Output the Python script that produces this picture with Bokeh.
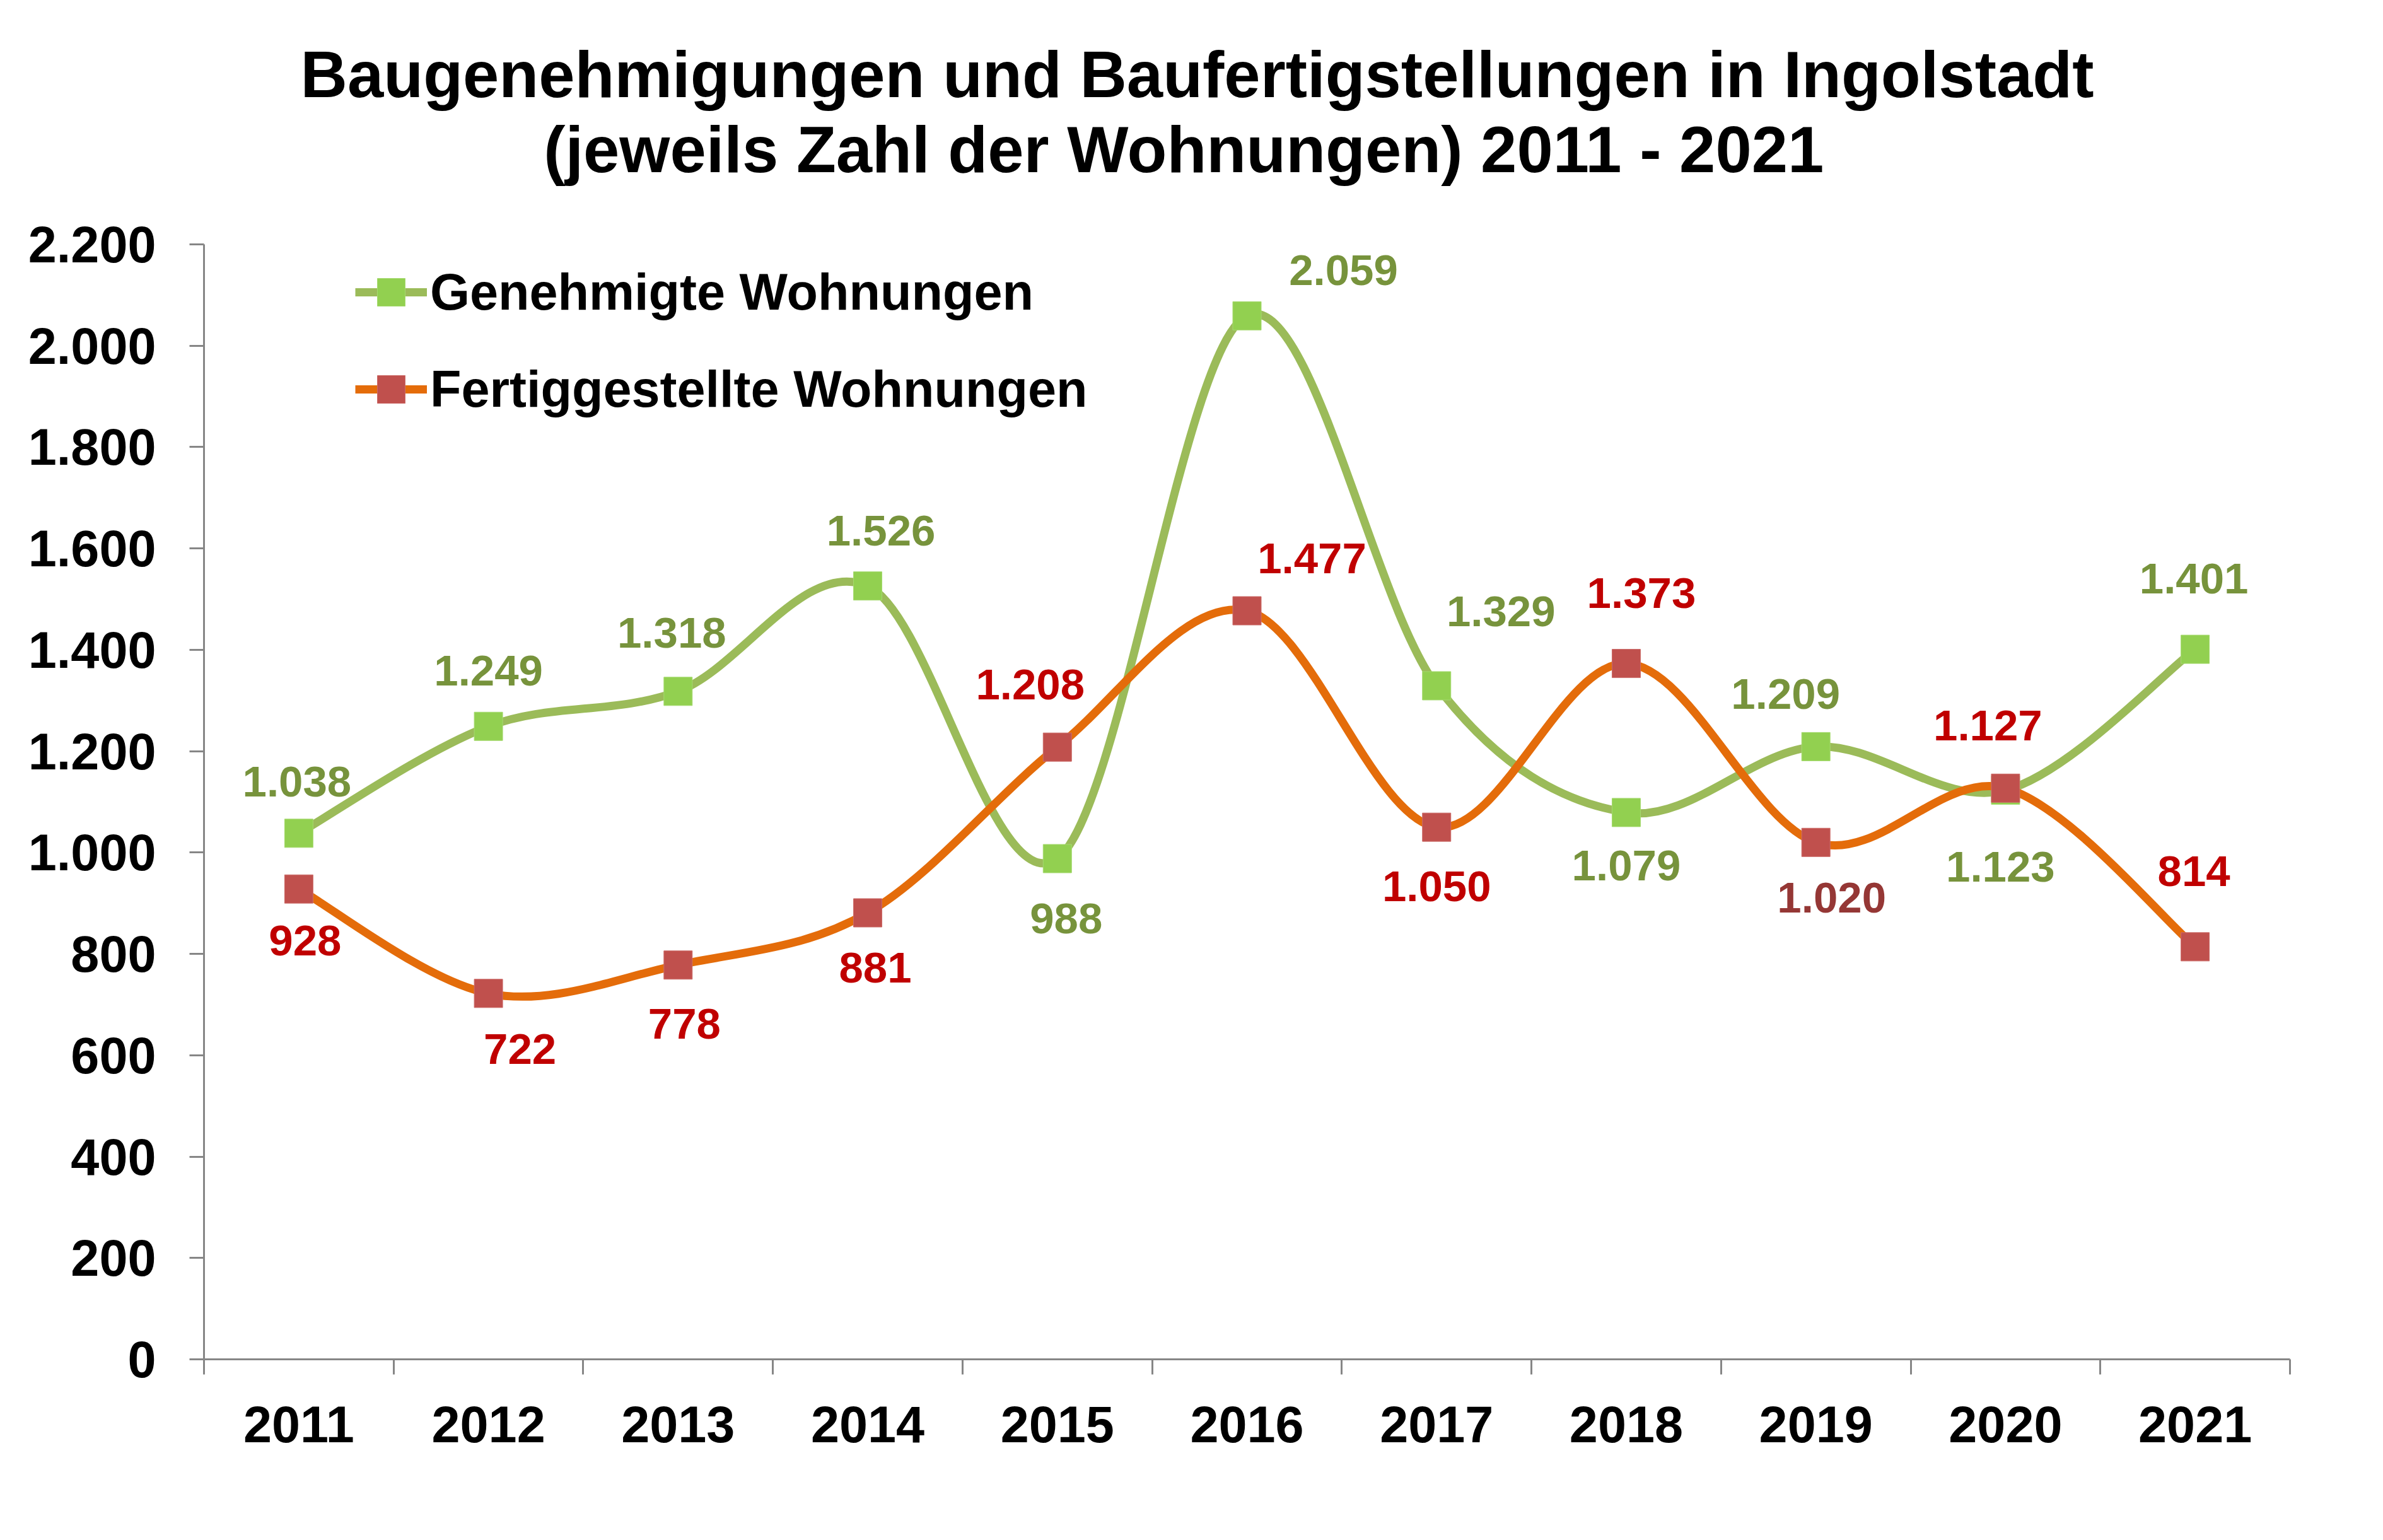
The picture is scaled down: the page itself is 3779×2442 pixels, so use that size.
from bokeh.plotting import figure
from bokeh.models import (Range1d, FixedTicker, Legend, LegendItem, ColumnDataSource)
from bokeh.core.properties import value
from bokeh.embed import file_html
from bokeh.resources import INLINE

# ---------------- data ----------------
years = ["2011", "2012", "2013", "2014", "2015", "2016", "2017", "2018", "2019", "2020", "2021"]
genehmigt = [1038, 1249, 1318, 1526, 988, 2059, 1329, 1079, 1209, 1123, 1401]
fertig = [928, 722, 778, 881, 1208, 1477, 1050, 1373, 1020, 1127, 814]
y_ticks = [0, 200, 400, 600, 800, 1000, 1200, 1400, 1600, 1800, 2000, 2200]

title_1 = "Baugenehmigungen und Baufertigstellungen in Ingolstadt"
title_2 = "(jeweils Zahl der Wohnungen)  2011 - 2021"
name_g = "Genehmigte Wohnungen"
name_f = "Fertiggestellte Wohnungen"

# ---------------- styles / placement ----------------
FONT = "Liberation Sans"
C_LINE_G, C_MARK_G, C_TEXT_G = "#9BBB59", "#92D050", "#77933C"
C_LINE_F, C_MARK_F = "#E46C0A", "#C0504D"
AXIS_C = "#868686"
off_g = [(-3, -82), (0, -88), (-10, -93), (21, -88), (14, 95), (153, -72),
         (102, -118), (0, 84), (-48, -83), (-8, 121), (-2, -112)]
off_f = [(10, 82), (50, 88), (10, 93), (12, 87), (-43, -99), (103, -83),
         (0, 94), (24, -112), (25, 88), (-28, -99), (-2, -120)]
col_f = ["#C00000"] * 8 + ["#953735"] + ["#C00000"] * 2

W, H = 3763, 2426
BORDER_L, BORDER_R, BORDER_B = 323, 132, 271
AXIS_PX = 1768            # pixel height of the 0..2200 axis
Y_AXIS_MAX = 2200
FRAME_H = H - BORDER_B
FRAME_W = W - BORDER_L - BORDER_R
Y_TOP = FRAME_H * Y_AXIS_MAX / AXIS_PX     # frame extends above the axis for the title
N = len(years)


def fmt(v):
    return f"{v:,}".replace(",", ".")


def smooth_segments(xs, ys):
    """Cubic Bezier segments (Catmull-Rom style, like a spreadsheet 'smoothed line')."""
    n = len(xs)
    seg = dict(x0=[], y0=[], x1=[], y1=[], cx0=[], cy0=[], cx1=[], cy1=[])
    for i in range(n - 1):
        a = max(i - 1, 0)
        d = min(i + 2, n - 1)
        seg["x0"].append(xs[i]); seg["y0"].append(ys[i])
        seg["x1"].append(xs[i + 1]); seg["y1"].append(ys[i + 1])
        seg["cx0"].append(xs[i] + (xs[i + 1] - xs[a]) / 6)
        seg["cy0"].append(ys[i] + (ys[i + 1] - ys[a]) / 6)
        seg["cx1"].append(xs[i + 1] - (xs[d] - xs[i]) / 6)
        seg["cy1"].append(ys[i + 1] - (ys[d] - ys[i]) / 6)
    return seg


def page_to_data(px, py):
    """convert a page pixel position (8px margin) to data coordinates"""
    fx = px - 8 - BORDER_L
    fy = (H - BORDER_B) - (py - 8)
    return -0.5 + fx * N / FRAME_W, fy * Y_AXIS_MAX / AXIS_PX


idx = list(range(N))

p = figure(width=W, height=H, output_backend="svg", toolbar_location=None,
           x_range=Range1d(-0.5, N - 0.5), y_range=Range1d(0, Y_TOP),
           min_border_left=BORDER_L, min_border_right=BORDER_R, min_border_top=0,
           min_border_bottom=BORDER_B)
p.outline_line_color = None
p.xgrid.visible = False
p.ygrid.visible = False
p.background_fill_color = "white"
p.border_fill_color = "white"

# ---------------- lines ----------------
sg = ColumnDataSource(smooth_segments(idx, genehmigt))
sf = ColumnDataSource(smooth_segments(idx, fertig))
p.bezier(x0="x0", y0="y0", x1="x1", y1="y1", cx0="cx0", cy0="cy0", cx1="cx1", cy1="cy1",
         source=sg, line_color=C_LINE_G, line_width=13, line_cap="round")
mg = p.scatter(idx, genehmigt, marker="square", size=45, fill_color=C_MARK_G,
               line_color="#A6DA70", line_width=1)
p.bezier(x0="x0", y0="y0", x1="x1", y1="y1", cx0="cx0", cy0="cy0", cx1="cx1", cy1="cy1",
         source=sf, line_color=C_LINE_F, line_width=13, line_cap="round")
mf = p.scatter(idx, fertig, marker="square", size=45, fill_color=C_MARK_F,
               line_color="#CC6C69", line_width=1)

# legend helper lines (zero-length, hidden under the first marker)
lg = p.line([idx[0], idx[0]], [genehmigt[0], genehmigt[0]], line_color=C_LINE_G, line_width=13)
lf = p.line([idx[0], idx[0]], [fertig[0], fertig[0]], line_color=C_LINE_F, line_width=13)
p.renderers.remove(lg); p.renderers.remove(lf)
p.renderers.insert(0, lg); p.renderers.insert(0, lf)

# ---------------- data labels ----------------
src_lg = ColumnDataSource(dict(x=idx, y=genehmigt, t=[fmt(v) for v in genehmigt],
                               dx=[o[0] for o in off_g], dy=[o[1] for o in off_g]))
src_lf = ColumnDataSource(dict(x=idx, y=fertig, t=[fmt(v) for v in fertig],
                               dx=[o[0] for o in off_f], dy=[o[1] for o in off_f], c=col_f))
p.text(x="x", y="y", text="t", x_offset="dx", y_offset="dy", source=src_lg,
       text_font=value(FONT), text_font_style="bold", text_font_size="69px",
       text_color=C_TEXT_G, text_align="center", text_baseline="middle")
p.text(x="x", y="y", text="t", x_offset="dx", y_offset="dy", source=src_lf,
       text_font=value(FONT), text_font_style="bold", text_font_size="69px",
       text_color="c", text_align="center", text_baseline="middle")

# ---------------- title (drawn in the frame area above the axis) ----------------
tx1, ty1 = page_to_data(1906, 126)
tx2, ty2 = page_to_data(1899, 245)
p.text(x=[tx1, tx2], y=[ty1, ty2], text=[title_1, title_2],
       text_font=value(FONT), text_font_style="bold", text_font_size="103px",
       text_color="black", text_align="center", text_baseline="middle")

# ---------------- axes ----------------
yax = p.yaxis[0]
yax.bounds = (0, Y_AXIS_MAX)
yax.ticker = FixedTicker(ticks=y_ticks)
yax.major_label_overrides = {v: fmt(v) for v in y_ticks}
yax.major_label_text_font = FONT
yax.major_label_text_font_style = "bold"
yax.major_label_text_font_size = "81px"
yax.major_label_text_color = "black"
yax.major_tick_out = 23
yax.major_tick_in = 0
yax.minor_tick_out = 0
yax.minor_tick_in = 0
yax.major_tick_line_color = AXIS_C
yax.major_tick_line_width = 3
yax.axis_line_color = AXIS_C
yax.axis_line_width = 3
yax.major_label_standoff = 53

xax = p.xaxis[0]
xax.ticker = FixedTicker(ticks=idx, minor_ticks=[i - 0.5 for i in range(N + 1)])
xax.major_label_overrides = {i: y for i, y in zip(idx, years)}
xax.major_label_text_font = FONT
xax.major_label_text_font_style = "bold"
xax.major_label_text_font_size = "81px"
xax.major_label_text_color = "black"
xax.major_tick_out = 0
xax.major_tick_in = 0
xax.major_tick_line_color = None
xax.minor_tick_out = 24
xax.minor_tick_in = 0
xax.minor_tick_line_color = AXIS_C
xax.minor_tick_line_width = 3
xax.axis_line_color = AXIS_C
xax.axis_line_width = 3
xax.major_label_standoff = 50

# ---------------- legend ----------------
legend = Legend(items=[LegendItem(label=name_g, renderers=[lg, mg]),
                       LegendItem(label=name_f, renderers=[lf, mf])],
                location=(240, 1483), orientation="vertical",
                glyph_width=114, glyph_height=110, spacing=44, label_standoff=5,
                padding=0, margin=0, border_line_color=None, background_fill_alpha=0,
                label_text_font=FONT, label_text_font_style="bold",
                label_text_font_size="81px", label_text_color="black",
                label_text_baseline="middle")
p.add_layout(legend, "center")

open("out.html", "w").write(file_html(p, INLINE))
